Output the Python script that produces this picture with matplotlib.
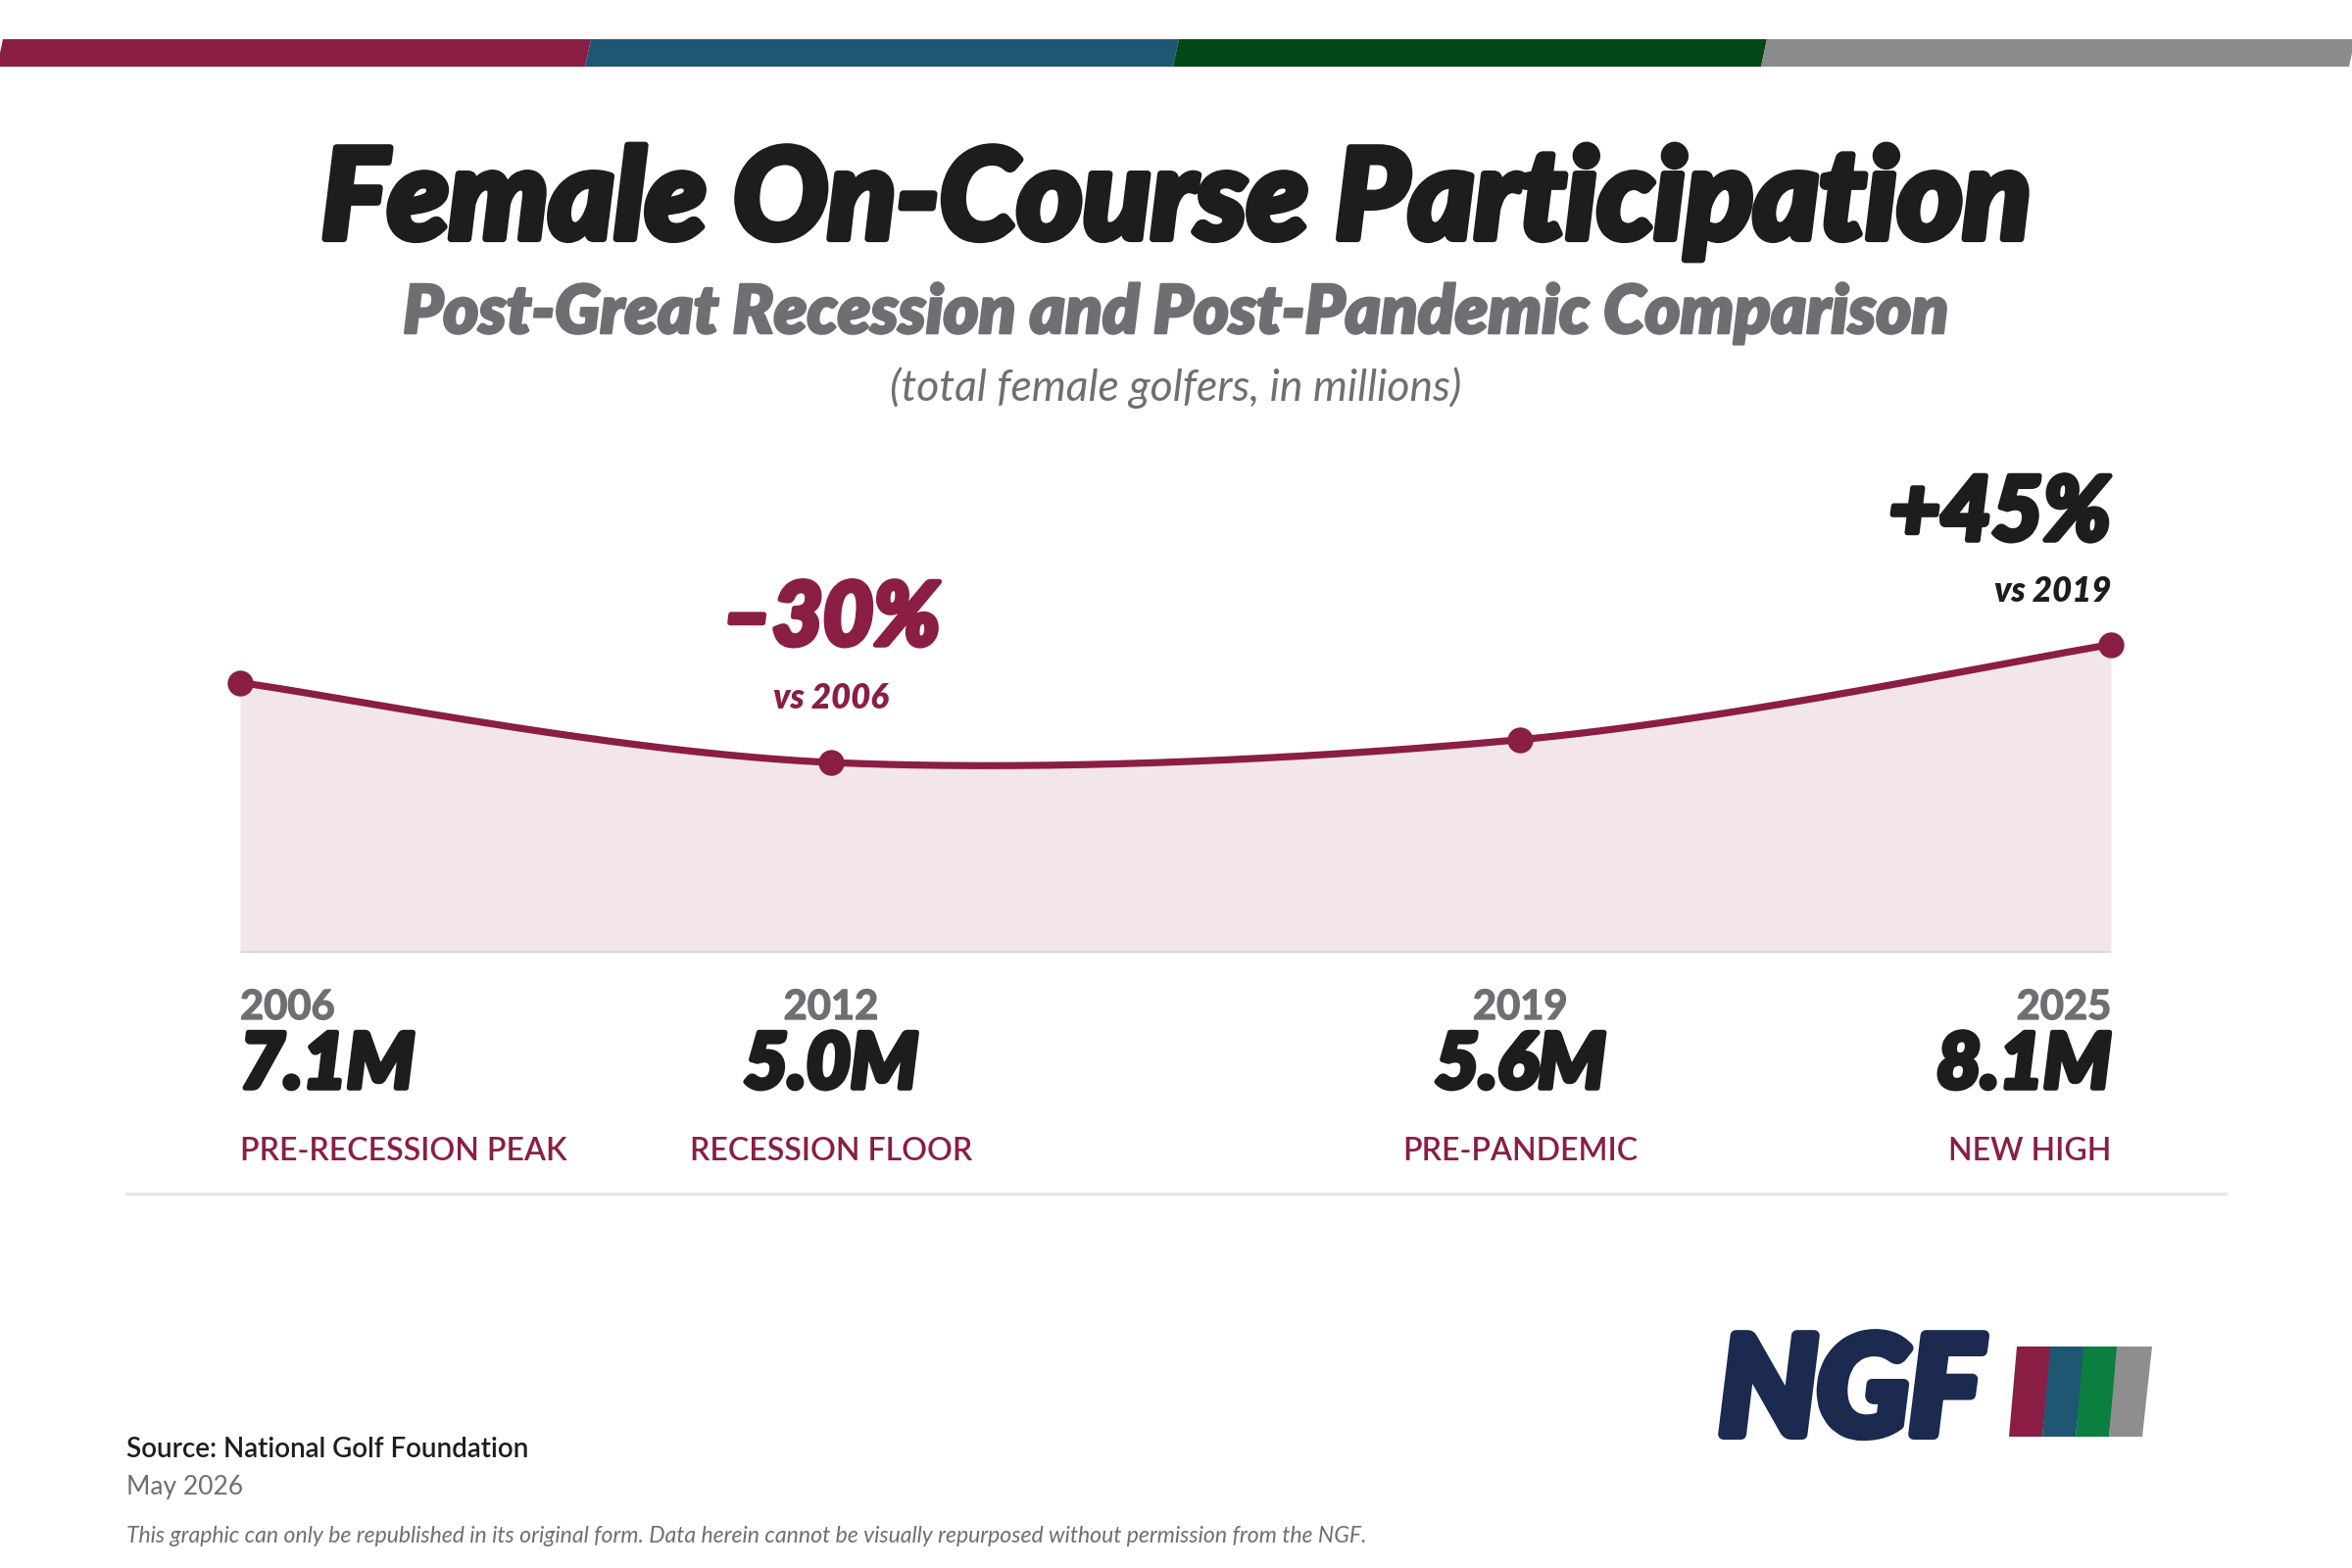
import numpy as np
import matplotlib.pyplot as plt
from matplotlib.patches import Polygon
from matplotlib import transforms
import matplotlib.patheffects as pe

# data
years = [2006, 2012, 2019, 2025]
golfers = [7.1, 5.0, 5.6, 8.1]  # millions
value_labels = ["7.1M", "5.0M", "5.6M", "8.1M"]
milestones = ["PRE-RECESSION PEAK", "RECESSION FLOOR", "PRE-PANDEMIC", "NEW HIGH"]
change_labels = ["–30%", "+45%"]
change_refs = ["vs 2006", "vs 2019"]
change_years = [2012, 2025]

MAROON = "#8A1E45"
DARK = "#1B1D1F"
GRAY = "#6D6F72"
FILL = "#F2E6EA"
bar_colors = ["#8A1E45", "#1F5673", "#024816", "#8A8C8E"]
logo_colors = ["#8A1E45", "#1F5673", "#0A7F3F", "#8E8E8E"]

plt.rcParams["font.family"] = ["Lato", "DejaVu Sans"]

W, H = 2400, 1600
fig = plt.figure(figsize=(12, 8), dpi=200)


def fx(x):
    return x / W


def fy(y):
    return 1 - y / H


def heavy(color, lw):
    # thicken the glyphs a bit, the source uses a black weight
    return [pe.Stroke(linewidth=lw, foreground=color), pe.Normal()]


# colour strip at the top
for i, c in enumerate(bar_colors):
    x0, x1 = i * 600, (i + 1) * 600
    pts = [(x0 + 3, 40), (x1 + 3, 40), (x1 - 3, 68), (x0 - 3, 68)]
    fig.patches.append(Polygon([(fx(a), fy(b)) for a, b in pts], closed=True,
                               transform=fig.transFigure, color=c, lw=0))

# titles
fig.text(0.5, fy(206), "Female On-Course Participation", ha="center", va="center",
         fontsize=46, weight="black", style="italic", color=DARK,
         path_effects=heavy(DARK, 2.6))
fig.text(0.5, fy(320), "Post-Great Recession and Post-Pandemic Comparison", ha="center",
         va="center", fontsize=24.7, weight="heavy", style="italic", color=GRAY,
         path_effects=heavy(GRAY, 0.9))
fig.text(0.5, fy(396), "(total female golfers, in millions)", ha="center", va="center",
         fontsize=16, style="italic", color=GRAY)


def smooth(xs, ys, steps=60):
    # Catmull-Rom style cardinal spline through the points
    pts = np.column_stack([xs, ys]).astype(float)
    p = np.vstack([pts[0], pts, pts[-1]])
    t = np.linspace(0, 1, steps)[:, None]
    out = []
    for i in range(1, len(p) - 2):
        p0, p1, p2, p3 = p[i - 1], p[i], p[i + 1], p[i + 2]
        b1 = p1 + (p2 - p0) / 6
        b2 = p2 - (p3 - p1) / 6
        seg = (1 - t) ** 3 * p1 + 3 * (1 - t) ** 2 * t * b1 + 3 * (1 - t) * t ** 2 * b2 + t ** 3 * p2
        out.append(seg if i == 1 else seg[1:])
    return np.vstack(out)


ax = fig.add_axes([fx(245), fy(972), (2154 - 245) / W, 388 / H])
ax.set_xlim(years[0], years[-1])
ax.set_ylim(0, 10)
ax.axis("off")

curve = smooth(years, golfers)
ax.fill_between(curve[:, 0], 0, curve[:, 1], color=FILL, lw=0)
ax.plot(curve[:, 0], curve[:, 1], color=MAROON, lw=2.6, solid_capstyle="round")
ax.plot(years, golfers, "o", ms=8.5, color=MAROON, clip_on=False)
ax.axhline(0, color="#D2CCD0", lw=1.2)

bt = transforms.blended_transform_factory(ax.transData, fig.transFigure)

# change callouts
ax.text(change_years[0], fy(632), change_labels[0], transform=bt, ha="center", va="center",
        fontsize=32, weight="black", style="italic", color=MAROON,
        path_effects=heavy(MAROON, 2.0))
ax.text(change_years[0], fy(713), change_refs[0], transform=bt, ha="center", va="center",
        fontsize=12.5, weight="heavy", style="italic", color=MAROON)
ax.text(change_years[1], fy(525), change_labels[1], transform=bt, ha="right", va="center",
        fontsize=32.5, weight="black", style="italic", color=DARK,
        path_effects=heavy(DARK, 2.0))
ax.text(change_years[1], fy(603), change_refs[1], transform=bt, ha="right", va="center",
        fontsize=12.5, weight="heavy", style="italic", color=DARK)

# labels under the chart
aligns = ["left", "center", "center", "right"]
for yr, val, lab, ha in zip(years, value_labels, milestones, aligns):
    ax.text(yr, fy(1028), str(yr), transform=bt, ha=ha, va="center",
            fontsize=15, weight="bold", color=GRAY, path_effects=heavy(GRAY, 0.5))
    ax.text(yr, fy(1088), val, transform=bt, ha=ha, va="center",
            fontsize=28, weight="black", style="italic", color=DARK,
            path_effects=heavy(DARK, 2.0))
    ax.text(yr, fy(1175), lab, transform=bt, ha=ha, va="center",
            fontsize=11.5, weight="semibold", color=MAROON)

fig.add_artist(plt.Line2D([fx(129), fx(2271)], [fy(1218), fy(1218)], color="#E6E6E6", lw=1.2))

# footer
fig.text(fx(129), fy(1479), "Source: National Golf Foundation", ha="left", va="center",
         fontsize=10, weight="semibold", color=DARK)
fig.text(fx(129), fy(1518), "May 2026", ha="left", va="center", fontsize=9.5, color=GRAY)
fig.text(fx(129), fy(1567),
         "This graphic can only be republished in its original form. Data herein cannot be visually "
         "repurposed without permission from the NGF.",
         ha="left", va="center", fontsize=8.3, style="italic", color=GRAY)

# NGF logo
fig.text(fx(1754), fy(1423), "NGF", ha="left", va="center", fontsize=50, weight="black",
         style="italic", color="#1B2A4E", path_effects=heavy("#1B2A4E", 4.0))
for i, c in enumerate(logo_colors):
    x0 = 2050 + i * 34
    pts = [(x0 + 8, 1374), (x0 + 44, 1374), (x0 + 34, 1466), (x0, 1466)]
    fig.patches.append(Polygon([(fx(a), fy(b)) for a, b in pts], closed=True,
                               transform=fig.transFigure, color=c, lw=0))

fig.savefig("out.png", dpi=200, facecolor="white")
